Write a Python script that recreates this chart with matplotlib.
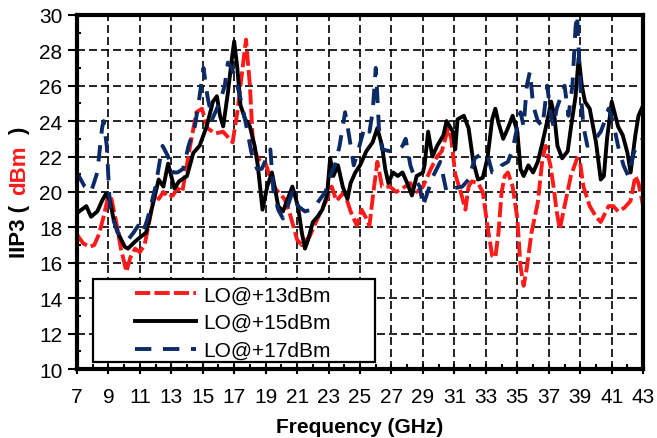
import numpy as np
import matplotlib
matplotlib.use("Agg")
import matplotlib.pyplot as plt
from matplotlib.patches import Rectangle
from matplotlib.ticker import MultipleLocator

plt.rcParams["font.family"] = ["Liberation Sans", "DejaVu Sans"]

# LO@+13dBm (red dashed)
freq13 = [7.0, 7.4, 7.8, 8.1, 8.4, 8.7, 9.0, 9.2, 9.5, 9.8, 10.15, 10.4, 10.7, 11.0,
          11.3, 11.6, 11.95, 12.2, 12.5, 12.8, 13.1, 13.4, 13.7, 13.95, 14.2, 14.6,
          14.95, 15.3, 15.8, 16.3, 16.7, 16.9, 17.2, 17.4, 17.75, 18.0, 18.2, 18.5,
          18.8, 19.0, 19.3, 19.6, 20.2, 20.5, 21.0, 21.3, 21.8, 22.3, 22.9, 23.2,
          23.5, 24.0, 24.4, 24.8, 25.1, 25.4, 25.6, 25.85, 26.1, 26.4, 26.9, 27.3,
          27.7, 28.2, 28.6, 29.0, 29.5, 29.9, 30.2, 30.6, 30.8, 31.05, 31.4, 31.7,
          31.9, 32.1, 32.5, 32.8, 33.1, 33.4, 33.6, 33.8, 34.0, 34.2, 34.4, 34.7,
          35.0, 35.2, 35.4, 35.6, 35.9, 36.3, 36.6, 36.8, 37.1, 37.3, 37.5, 37.7,
          38.0, 38.4, 38.8, 39.0, 39.2, 39.6, 40.0, 40.3, 40.8, 41.1, 41.4, 41.8,
          42.2, 42.5, 42.7, 43.0]
iip3_13 = [17.6, 17.1, 16.9, 17.0, 17.6, 18.6, 19.8, 19.6, 18.3, 16.8, 15.5, 16.3, 16.8, 16.6,
           17.0, 18.3, 20.0, 19.6, 20.0, 19.7, 19.8, 20.2, 20.0, 21.3, 22.6, 24.5,
           24.7, 23.6, 23.3, 23.4, 23.0, 22.8, 24.5, 26.0, 28.6, 26.0, 22.6, 21.9,
           21.6, 21.6, 20.8, 20.2, 19.6, 18.9, 17.3, 17.0, 17.5, 18.5, 19.6, 20.3,
           19.5, 20.0, 18.9, 18.1, 19.0, 18.5, 18.1, 20.0, 21.7, 20.3, 20.3, 20.0,
           20.2, 20.5, 20.0, 20.3, 21.3, 22.0, 22.3, 23.6, 23.0, 21.0, 20.0, 19.0,
           20.3, 20.6, 20.5, 20.0, 18.1, 16.4, 16.3, 17.7, 20.0, 20.9, 21.1, 20.3,
           18.5, 15.8, 14.7, 15.7, 17.7, 19.4, 21.9, 22.6, 21.5, 20.3, 18.9, 17.9,
           19.2, 20.9, 21.9, 21.6, 20.3, 19.2, 18.6, 18.3, 19.2, 19.2, 18.9, 19.1,
           19.5, 20.9, 20.5, 19.2]

# LO@+15dBm (black solid)
freq15 = [7.0, 7.3, 7.6, 7.9, 8.3, 8.6, 8.85, 9.1, 9.35, 9.6, 10.05, 10.25, 10.7, 11.1,
          11.4, 11.8, 12.2, 12.5, 12.8, 13.2, 13.5, 14.0, 14.4, 14.8, 15.25, 15.65,
          15.9, 16.1, 16.3, 16.6, 16.85, 17.0, 17.2, 17.4, 17.7, 18.0, 18.3, 18.5,
          18.8, 19.1, 19.4, 19.8, 20.1, 20.4, 20.7, 21.05, 21.3, 21.5, 21.7, 22.0,
          22.3, 22.6, 22.9, 23.1, 23.3, 23.6, 23.9, 24.2, 24.4, 24.7, 25.0, 25.4,
          25.8, 26.1, 26.4, 26.6, 26.8, 27.1, 27.4, 27.7, 28.0, 28.3, 28.6, 29.0,
          29.1, 29.33, 29.6, 29.9, 30.3, 30.5, 30.9, 31.05, 31.2, 31.6, 31.9, 32.2,
          32.5, 32.8, 33.1, 33.4, 33.6, 33.8, 34.1, 34.4, 34.7, 35.0, 35.2, 35.4,
          35.7, 36.0, 36.3, 36.6, 36.9, 37.15, 37.35, 37.55, 37.85, 38.2, 38.4, 38.7,
          38.9, 39.1, 39.3, 39.6, 40.0, 40.3, 40.5, 40.7, 41.0, 41.4, 41.7, 42.0,
          42.2, 42.5, 42.7, 43.0]
iip3_15 = [18.8, 19.0, 19.2, 18.6, 18.9, 19.5, 19.9, 19.5, 18.4, 17.7, 16.9, 16.8, 17.2, 17.5,
           17.7, 19.2, 20.7, 20.3, 21.6, 20.2, 20.6, 20.9, 22.2, 22.6, 23.7, 25.1,
           25.4, 24.3, 23.7, 25.6, 27.5, 28.5, 27.0, 24.9, 24.1, 23.7, 22.6, 21.5,
           19.0, 20.3, 21.1, 19.2, 18.9, 19.6, 20.3, 19.2, 17.7, 16.8, 17.3, 18.3,
           18.6, 19.0, 19.8, 21.9, 20.9, 21.5, 20.3, 19.6, 20.5, 21.1, 21.5, 22.3,
           22.8, 23.6, 22.6, 21.3, 20.5, 21.1, 20.9, 21.1, 20.5, 19.8, 20.9, 21.1,
           21.5, 23.4, 22.0, 22.6, 23.2, 24.0, 23.4, 22.4, 24.1, 24.3, 23.6, 21.7,
           20.7, 20.8, 21.9, 24.1, 24.7, 23.9, 23.0, 23.6, 24.3, 23.4, 21.3, 20.9,
           21.5, 21.1, 21.7, 22.8, 24.0, 25.1, 24.3, 22.6, 21.9, 22.3, 23.6, 25.4,
           27.6, 26.0, 25.1, 24.7, 22.8, 20.7, 20.9, 23.0, 25.1, 23.7, 23.2, 22.2,
           21.1, 23.2, 24.3, 24.9]

# LO@+17dBm (navy dashed)
freq17 = [7.0, 7.5, 7.9, 8.3, 8.6, 8.7, 8.9, 9.0, 9.1, 9.3, 9.6, 9.85, 10.25, 10.6,
          10.9, 11.2, 11.5, 12.0, 12.3, 12.45, 12.8, 13.1, 13.4, 13.75, 14.1, 14.5,
          14.8, 15.05, 15.3, 15.6, 15.9, 16.2, 16.4, 16.6, 16.85, 17.2, 17.5, 17.8,
          18.1, 18.45, 18.75, 19.1, 19.3, 19.5, 19.8, 20.1, 20.4, 20.7, 21.05, 21.5,
          21.9, 22.3, 22.8, 23.1, 23.4, 23.7, 24.05, 24.3, 24.6, 24.9, 25.3, 25.6,
          25.8, 26.0, 26.1, 26.2, 26.4, 26.9, 27.4, 27.7, 27.9, 28.2, 28.5, 28.8,
          29.0, 29.3, 29.65, 30.1, 30.5, 30.9, 31.5, 31.9, 32.3, 32.8, 33.1, 33.4,
          33.7, 34.0, 34.4, 34.7, 35.0, 35.2, 35.4, 35.6, 35.8, 36.0, 36.3, 36.6,
          36.9, 37.1, 37.3, 37.5, 37.85, 38.0, 38.25, 38.5, 38.7, 38.8, 39.0, 39.2,
          39.45, 39.8, 40.3, 40.6, 40.8, 41.1, 41.4, 41.75, 42.05, 42.4, 42.7, 43.0]
iip3_17 = [21.1, 20.3, 20.0, 21.1, 23.6, 24.0, 22.6, 20.9, 19.2, 18.5, 17.7, 17.5, 17.3, 17.7,
           18.1, 17.7, 18.5, 20.3, 21.9, 22.6, 22.0, 21.1, 21.1, 21.3, 22.6, 23.7,
           25.4, 27.0, 25.4, 24.1, 24.7, 25.4, 26.0, 27.3, 27.0, 26.0, 24.9, 23.6,
           22.2, 21.3, 21.3, 22.0, 22.4, 20.0, 19.0, 18.5, 19.2, 20.0, 19.2, 18.9,
           19.0, 19.4, 20.0, 20.9, 21.5, 22.6, 24.5, 23.2, 21.5, 22.4, 23.7, 23.4,
           24.5, 27.0, 25.4, 23.6, 22.4, 22.3, 22.3, 22.6, 23.0, 21.5, 20.7, 20.3,
           19.2, 20.0, 20.9, 21.7, 20.0, 20.2, 20.3, 20.7, 21.9, 22.2, 22.1, 21.1,
           21.1, 21.5, 21.7, 22.4, 23.7, 24.5, 23.7, 26.0, 26.8, 24.9, 24.0, 23.7,
           26.0, 24.5, 23.7, 24.7, 25.6, 26.0, 24.3, 26.0, 29.3, 30.0, 26.0, 23.7,
           22.6, 22.8, 23.4, 24.1, 24.7, 23.9, 22.6, 21.5, 20.9, 22.2, 22.8, 23.0]

xticks = np.arange(7, 44, 2)
yticks = np.arange(10, 31, 2)

fig = plt.figure(figsize=(6.57, 4.39), dpi=100)
ax = fig.add_axes([0.117, 0.157, 0.862, 0.807])

ax.plot(freq13, iip3_13, color="#ff1a1a", lw=2.8, dashes=(3.9, 1.1),
        label="LO@+13dBm")
ax.plot(freq15, iip3_15, color="black", lw=2.8, label="LO@+15dBm")
ax.plot(freq17, iip3_17, color="#0b2a66", lw=2.8, dashes=(4.2, 3.0),
        label="LO@+17dBm")

ax.set_xlim(7, 43)
ax.set_ylim(10, 30)
ax.set_xticks(xticks)
ax.set_yticks(yticks)
ax.xaxis.set_minor_locator(MultipleLocator(1))
ax.yaxis.set_minor_locator(MultipleLocator(1))
ax.tick_params(axis="x", which="major", direction="inout", length=7.5, width=1.5,
               labelsize=15, pad=9)
ax.tick_params(axis="x", which="minor", direction="in", length=3.6, width=1.5)
ax.tick_params(axis="y", which="major", direction="out", length=6.5, width=1.5,
               labelsize=15, pad=4)
ax.tick_params(axis="y", which="minor", direction="in", length=3, width=1.5)

ax.grid(True, which="major", color="black", lw=1.2, linestyle=(0, (4.8, 2.4)))
for s in ax.spines.values():
    s.set_linewidth(3)

ax.set_xlabel("Frequency (GHz)", fontsize=15, fontweight="bold", labelpad=8)

# legend: white box with black frame, entries inside
ax.add_patch(Rectangle((0.028, 0.02), 0.499, 0.234, transform=ax.transAxes,
                       facecolor="white", edgecolor="black", lw=1.6, zorder=4.5))
ax.legend(loc="upper left", bbox_to_anchor=(0.103, 0.236), frameon=False,
          fontsize=15, handlelength=2.9, handletextpad=0.35, labelspacing=0.42,
          borderpad=0, borderaxespad=0)

# y label with red "dBm"
fig.canvas.draw()
r = fig.canvas.get_renderer()
parts = [("IIP3 (", "black"), ("dBm", "#ff1a1a"), (")", "black")]
texts = [fig.text(0, 0, p, color=c, fontsize=16, fontweight="bold", rotation=90,
                  ha="center", va="bottom") for p, c in parts]
heights = [t.get_window_extent(r).height for t in texts]
gap = 0.45 * 16 * 100 / 72
total = sum(heights) + gap * (len(heights) - 1)
ax_box = ax.get_window_extent(r)
y = (ax_box.y0 + ax_box.y1) / 2 - total / 2
for t, h in zip(texts, heights):
    t.set_position((20 / 657, y / fig.bbox.height))
    y += h + gap

fig.savefig("out.png", dpi=100)
